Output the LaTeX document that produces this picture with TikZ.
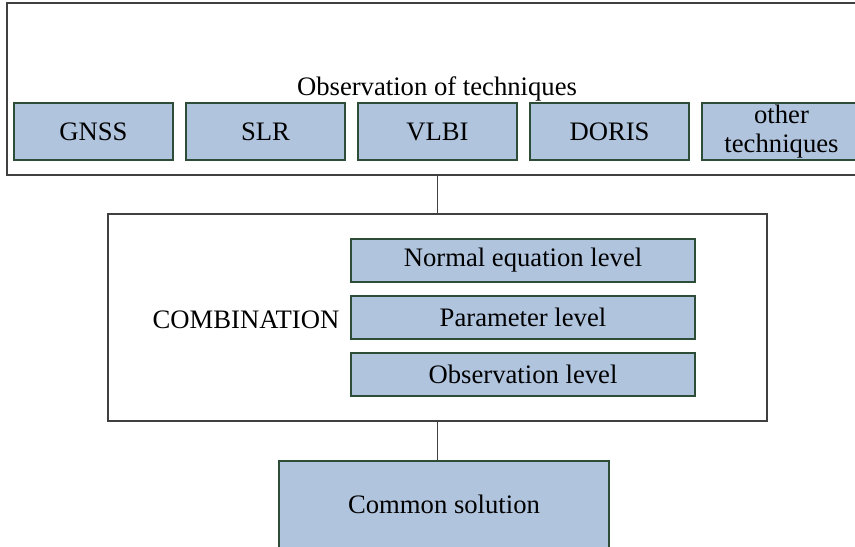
\documentclass[tikz,border=0pt]{standalone}
\usepackage{fontspec}
\setmainfont{Liberation Serif}
\usetikzlibrary{positioning}
\definecolor{boxfill}{HTML}{B0C4DE}
\definecolor{boxline}{HTML}{2E4D38}
\definecolor{frameline}{HTML}{404040}

\begin{document}
\begin{tikzpicture}[x=0.75pt, y=-0.75pt, font=\fontsize{20}{22}\selectfont,
    frame/.style={draw=frameline, line width=0.8pt, inner sep=0pt},
    techbox/.style={draw=boxline, fill=boxfill, line width=0.8pt, inner sep=0pt,
        minimum width=119.25pt, minimum height=42.75pt, align=center},
    levelbox/.style={techbox, minimum width=258pt, minimum height=32.25pt}]
    \useasboundingbox (0,0) rectangle (855,546);
    \clip (0,0) rectangle (855,546);

    % Top panel - observation techniques
    \node[frame, minimum width=641.25pt, minimum height=129pt] (obsbox) at (434.5,89) {};
    \node (obstitle) at (437,89) {Observation of techniques};
    \node[techbox] (gnss) at (93.5,131.5) {GNSS};
    \node[techbox] (slr) at (265.5,131.5) {SLR};
    \node[techbox] (vlbi) at (437.5,131.5) {VLBI};
    \node[techbox] (doris) at (609.5,131.5) {DORIS};
    \node[techbox] (other) at (781.5,131.5) {other\\techniques};

    % Middle panel - combination levels
    \node[frame, minimum width=494.25pt, minimum height=155.25pt] (comb) at (437.5,317.5) {};
    \node (combtitle) at (246,320) {COMBINATION};
    \node[levelbox] (normal) at (523,260.5) {Normal equation level};
    \node[levelbox] (param) at (523,317.5) {Parameter level};
    \node[levelbox] (obslevel) at (523,374.5) {Observation level};

    % Bottom - result
    \node[techbox, minimum width=247.5pt, minimum height=65.25pt] (common) at (444,504.5) {Common solution};

    \draw[frameline, line width=0.8pt] (comb.north) -- (comb.north |- obsbox.south);
    \draw[frameline, line width=0.8pt] (comb.south) -- (comb.south |- common.north);
\end{tikzpicture}
\end{document}
